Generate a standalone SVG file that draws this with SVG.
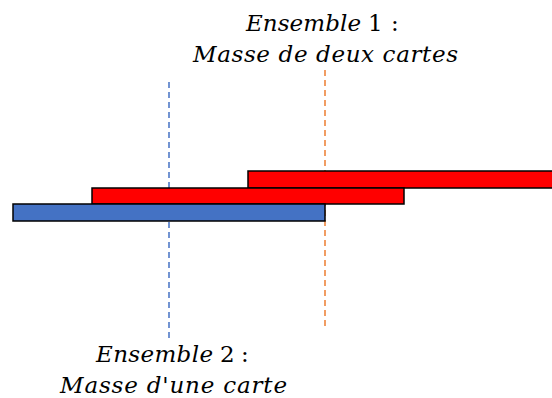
<svg xmlns="http://www.w3.org/2000/svg" width="552" height="398" viewBox="0 0 552 398">
<style>
.t{font-family:"DejaVu Serif","Liberation Serif",serif;font-style:italic;font-size:23px;fill:#000}
.u{font-family:"DejaVu Serif","Liberation Serif",serif;font-size:23px;fill:#000}
.bar{stroke:#000;stroke-width:1.5}
</style>
<rect width="552" height="398" fill="#fff"/>
<g id="connectors">
<line x1="169" y1="82" x2="169" y2="340" stroke="#4472C4" stroke-width="1.5" stroke-dasharray="6,4"/>
<line x1="325" y1="70" x2="325" y2="326" stroke="#ED7D31" stroke-width="1.5" stroke-dasharray="6,4"/>
</g>
<g id="carte-haut"><rect class="bar" x="248" y="171" width="306" height="17" fill="#FF0000"/></g>
<g id="carte-milieu"><rect class="bar" x="92" y="188" width="312" height="16" fill="#FF0000"/></g>
<g id="carte-bleue"><rect class="bar" x="13" y="204" width="312" height="17" fill="#4472C4"/></g>
<g id="label1">
<text class="t" x="246" y="31" textLength="115" lengthAdjust="spacing">Ensemble</text>
<text class="u" x="368" y="31">1</text>
<text class="u" x="391" y="31">:</text>
<text class="t" x="193" y="62" textLength="265" lengthAdjust="spacing">Masse de deux cartes</text>
</g>
<g id="label2">
<text class="t" x="96" y="362" textLength="117" lengthAdjust="spacing">Ensemble</text>
<text class="u" x="220" y="362">2</text>
<text class="u" x="241" y="362">:</text>
<text class="t" x="60" y="393" textLength="227" lengthAdjust="spacing">Masse d'une carte</text>
</g>
</svg>
